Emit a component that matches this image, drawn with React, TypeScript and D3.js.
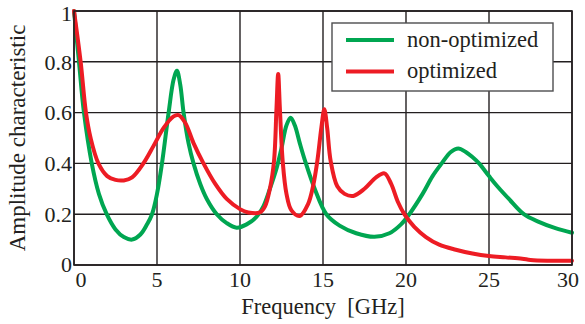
import React from 'react';
import { scaleLinear, line, curveCatmullRom } from 'd3';

// [frequency GHz, amplitude]
const nonOptimized: [number, number][] = [
  [0, 1.0], [0.3, 0.8], [0.6, 0.6], [1.07, 0.4], [1.5, 0.28], [1.97, 0.2], [2.5, 0.14],
  [3.0, 0.11], [3.5, 0.1], [4.0, 0.12], [4.4, 0.16], [4.7, 0.2], [5.0, 0.28], [5.3, 0.4],
  [5.7, 0.6], [6.0, 0.73], [6.2, 0.765], [6.4, 0.71], [6.6, 0.6], [6.9, 0.48], [7.2, 0.4],
  [7.6, 0.32], [8.0, 0.26], [8.6, 0.2], [9.2, 0.165], [9.8, 0.147], [10.4, 0.16],
  [11.0, 0.19], [11.4, 0.23], [11.8, 0.3], [12.2, 0.38], [12.5, 0.46], [12.8, 0.55],
  [13.05, 0.58], [13.3, 0.55], [13.6, 0.48], [13.92, 0.41], [14.5, 0.3], [15.2, 0.2],
  [16.0, 0.155], [17.0, 0.125], [18.1, 0.111], [19.0, 0.125], [19.7, 0.16], [20.2, 0.2],
  [21.0, 0.28], [21.6, 0.35], [22.15, 0.4], [22.7, 0.445], [23.15, 0.459], [23.6, 0.445],
  [24.0, 0.425], [24.4, 0.4], [25.0, 0.35], [25.5, 0.31], [26.2, 0.26], [27.1, 0.2],
  [28.0, 0.17], [29.0, 0.145], [30.0, 0.127],
];

const optimized: [number, number][] = [
  [0, 1.0], [0.4, 0.8], [0.72, 0.6], [1.0, 0.5], [1.47, 0.4], [2.0, 0.35], [2.5, 0.335],
  [3.0, 0.333], [3.5, 0.345], [4.18, 0.4], [4.8, 0.47], [5.4, 0.54], [6.0, 0.585],
  [6.3, 0.59], [6.7, 0.56], [7.2, 0.48], [7.8, 0.4], [8.5, 0.32], [9.2, 0.26], [10.0, 0.22],
  [10.5, 0.207], [11.2, 0.207], [11.5, 0.23], [11.8, 0.3], [12.05, 0.41], [12.2, 0.62],
  [12.3, 0.752], [12.4, 0.62], [12.57, 0.41], [12.8, 0.28], [13.1, 0.215], [13.6, 0.193],
  [14.1, 0.24], [14.4, 0.31], [14.66, 0.41], [14.9, 0.54], [15.08, 0.613], [15.25, 0.54],
  [15.46, 0.41], [15.86, 0.31], [16.3, 0.28], [16.83, 0.272], [17.5, 0.3], [18.2, 0.345],
  [18.7, 0.361], [19.1, 0.32], [19.5, 0.25], [19.9, 0.2], [20.5, 0.15], [21.2, 0.11],
  [22.0, 0.08], [23.0, 0.06], [24.0, 0.045], [25.0, 0.035], [26.0, 0.03], [27.0, 0.025],
  [27.5, 0.02], [28.5, 0.017], [30.0, 0.017],
];

const xTicks = [0, 5, 10, 15, 20, 25, 30];
const yTicks = [0, 0.2, 0.4, 0.6, 0.8, 1];
const yTickLabels = ['0', '0.2', '0.4', '0.6', '0.8', '1'];

const series = [
  { name: 'non-optimized', data: nonOptimized, color: '#00a651' },
  { name: 'optimized', data: optimized, color: '#ed1c24' },
];

const W = 585;
const H = 324;
const INK = '#231f20';
const FONT = "'Liberation Serif'";

const margin = { top: 11, right: 13, bottom: 59, left: 74 };
const innerWidth = W - margin.left - margin.right;
const innerHeight = H - margin.top - margin.bottom;

const x = scaleLinear().domain([0, 30]).range([margin.left, margin.left + innerWidth]);
const y = scaleLinear().domain([0, 1]).range([margin.top + innerHeight, margin.top]);

const lineGen = line<[number, number]>()
  .x(d => x(d[0]))
  .y(d => y(d[1]))
  .curve(curveCatmullRom.alpha(0.5));

const textStyle = { fontFamily: FONT, fill: INK };

// the end labels sit a little inside the frame, as in the original
const xLabelShift = (t: number) => (t === 0 ? 7 : t === 30 ? -4 : 0);
const yLabelShift = (t: number) => (t === 1 ? 2.5 : t === 0 ? -1 : 0);

const App: React.FC = () => (
  <svg width={W} height={H} style={{ position: 'absolute', left: 0, top: 0, background: 'white' }}>
    {/* grid */}
    <g stroke={INK} strokeWidth={1.4}>
      {xTicks.map(t => (
        <line key={`gx${t}`} x1={x(t)} x2={x(t)} y1={y(0)} y2={y(1)} />
      ))}
      {yTicks.map(t => (
        <line key={`gy${t}`} x1={x(0)} x2={x(30)} y1={y(t)} y2={y(t)} />
      ))}
    </g>

    {/* curves */}
    {series.map(s => (
      <path
        key={s.name}
        d={lineGen(s.data) ?? ''}
        fill="none"
        stroke={s.color}
        strokeWidth={4}
        strokeLinejoin="round"
        strokeLinecap="round"
      />
    ))}

    {/* frame */}
    <rect x={x(0)} y={y(1)} width={innerWidth} height={innerHeight} fill="none" stroke={INK} strokeWidth={1.6} />

    {/* tick labels */}
    {xTicks.map(t => (
      <text key={`tx${t}`} x={x(t) + xLabelShift(t)} y={287} textAnchor="middle" style={{ ...textStyle, fontSize: 22 }}>
        {t}
      </text>
    ))}
    {yTicks.map((t, i) => (
      <text key={`ty${t}`} x={72} y={y(t) + yLabelShift(t)} dy="0.35em" textAnchor="end" style={{ ...textStyle, fontSize: 22 }}>
        {yTickLabels[i]}
      </text>
    ))}

    {/* axis titles */}
    <text x={x(15)} y={314} textAnchor="middle" style={{ ...textStyle, fontSize: 22.5, whiteSpace: 'pre' }}>
      {'Frequency  [GHz]'}
    </text>
    <text transform={`translate(25, ${y(0.5)}) rotate(-90)`} textAnchor="middle" style={{ ...textStyle, fontSize: 23 }}>
      Amplitude characteristic
    </text>

    {/* legend */}
    <rect x={332} y={23} width={221} height={68} fill="white" stroke="#4d4d4f" strokeWidth={1.4} />
    {series.map((s, i) => {
      const ly = 40 + i * 31.5;
      return (
        <g key={`lg${s.name}`}>
          <line x1={346} x2={394} y1={ly} y2={ly} stroke={s.color} strokeWidth={4} />
          <text x={407} y={ly} dy="0.3em" style={{ ...textStyle, fontSize: 22.5 }}>
            {s.name}
          </text>
        </g>
      );
    })}
  </svg>
);

export default App;
